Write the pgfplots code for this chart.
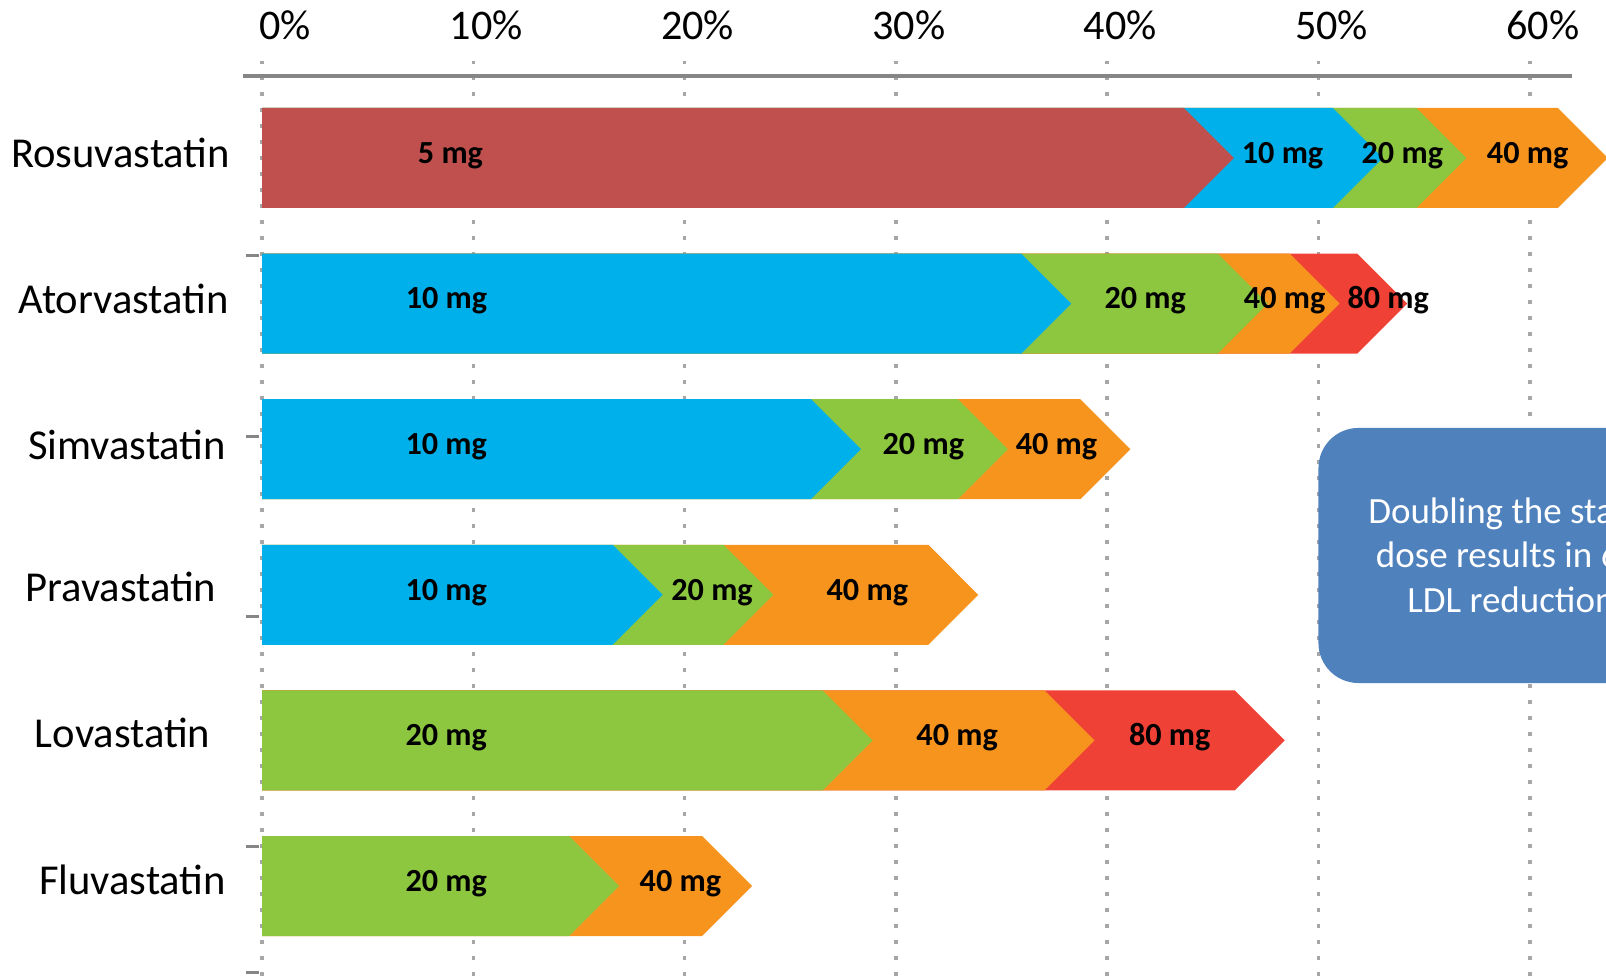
\documentclass[border=0pt]{standalone}
\usepackage{fontspec}
\setmainfont{Carlito}
\usepackage{pgfplots}
\pgfplotsset{compat=1.18}

\definecolor{dosered}{HTML}{C0504D}
\definecolor{doseblue}{HTML}{00B0EA}
\definecolor{dosegreen}{HTML}{8DC63F}
\definecolor{doseorange}{HTML}{F7941E}
\definecolor{dosebright}{HTML}{EF4136}
\definecolor{gridgray}{HTML}{A6A6A6}
\definecolor{axisgray}{HTML}{868686}
\definecolor{notebox}{HTML}{4F81BD}

% arrow tip depth (in %) and half bar height (in rows)
\newcommand\chevd{2.366}
\newcommand\chevh{0.3434}
% \chev{row}{LDL reduction in %}{colour}: arrow from 0 to the value
\newcommand{\chev}[3]{%
  \pgfmathsetmacro\cxb{#2-\chevd}%
  \pgfmathsetmacro\cyt{#1+\chevh}%
  \pgfmathsetmacro\cyb{#1-\chevh}%
  \edef\cplot{\noexpand\addplot[fill=#3, draw=none] coordinates
    {(0,\cyb) (\cxb,\cyb) (#2,#1) (\cxb,\cyt) (0,\cyt)};}%
  \cplot}

\tikzset{
  dose/.style={font=\bfseries\fontsize{16.1}{19}\selectfont, anchor=base, inner sep=0pt, yshift=-2.7pt},
  drug/.style={font=\fontsize{21.3}{25}\selectfont, anchor=base east, inner sep=0pt, xshift=1.8pt, yshift=-1pt},
  note/.style={font=\fontsize{18.5}{22}\selectfont, text=white, anchor=base, inner sep=0pt},
}

\begin{document}
\begin{tikzpicture}
\useasboundingbox (0,0) rectangle (803pt,488pt);
\clip (0,0) rectangle (803pt,488pt);
\begin{axis}[
  at={(121.5pt,0pt)}, anchor=south west,
  scale only axis, width=664.5pt, height=457.5pt,
  xmin=-0.9, xmax=62.0, ymin=-5.618, ymax=0.666,
  clip=false,
  axis x line*=top, axis y line*=left,
  axis line style={draw=none},
  xtick={0,10,20,30,40,50,60},
  xticklabels={\hspace*{10pt}0\%,10\%,20\%,30\%,40\%,50\%,60\%},
  xtick style={draw=none},
  xmajorgrids,
  major grid style={gridgray, line width=1.8pt, dash pattern=on 1.8pt off 6.2pt},
  ytick={-0.673,-1.916,-3.146,-4.732,-5.591},
  yticklabels={},
  ytick style={axisgray, line width=1.5pt, xshift=1.5pt},
  major tick length=6.5pt, tick align=inside,
  xticklabel style={font=\fontsize{21.1}{25}\selectfont, anchor=base, yshift=10.5pt, xshift=6.5pt},
]
% Rosuvastatin
\chev{0}{63.7}{doseorange}
\chev{0}{57.0}{dosegreen}
\chev{0}{53.05}{doseblue}
\chev{0}{46.0}{dosered}
% Atorvastatin
\chev{-1}{54.2}{dosebright}
\chev{-1}{51.0}{doseorange}
\chev{-1}{47.6}{dosegreen}
\chev{-1}{38.3}{doseblue}
% Simvastatin
\chev{-2}{41.1}{doseorange}
\chev{-2}{35.3}{dosegreen}
\chev{-2}{28.35}{doseblue}
% Pravastatin
\chev{-3}{33.9}{doseorange}
\chev{-3}{24.2}{dosegreen}
\chev{-3}{18.96}{doseblue}
% Lovastatin
\chev{-4}{48.4}{dosebright}
\chev{-4}{39.4}{doseorange}
\chev{-4}{28.9}{dosegreen}
% Fluvastatin
\chev{-5}{23.2}{doseorange}
\chev{-5}{16.9}{dosegreen}

% axis line
\draw[axisgray, line width=1.6pt] (axis cs:-0.9,0.563) -- (axis cs:62.0,0.563);

% dose labels
\node[dose] at (axis cs:8.92,0) {5 mg};
\node[dose] at (axis cs:48.3,0) {10 mg};
\node[dose] at (axis cs:53.97,0) {20 mg};
\node[dose] at (axis cs:59.9,0) {40 mg};
\node[dose] at (axis cs:8.73,-1) {10 mg};
\node[dose] at (axis cs:41.8,-1) {20 mg};
\node[dose] at (axis cs:48.4,-1) {40 mg};
\node[dose] at (axis cs:53.3,-1) {80 mg};
\node[dose] at (axis cs:8.72,-2) {10 mg};
\node[dose] at (axis cs:31.3,-2) {20 mg};
\node[dose] at (axis cs:37.6,-2) {40 mg};
\node[dose] at (axis cs:8.72,-3) {10 mg};
\node[dose] at (axis cs:21.3,-3) {20 mg};
\node[dose] at (axis cs:28.65,-3) {40 mg};
\node[dose] at (axis cs:8.72,-4) {20 mg};
\node[dose] at (axis cs:32.9,-4) {40 mg};
\node[dose] at (axis cs:42.96,-4) {80 mg};
\node[dose] at (axis cs:8.72,-5) {20 mg};
\node[dose] at (axis cs:19.8,-5) {40 mg};

% drug names
\node[drug] at (axis cs:-1.666,-0.0529) {Rosuvastatin};
\node[drug] at (axis cs:-1.732,-1.0515) {Atorvastatin};
\node[drug] at (axis cs:-1.859,-2.0577) {Simvastatin};
\node[drug] at (axis cs:-2.319,-3.029) {Pravastatin};
\node[drug] at (axis cs:-2.603,-4.034) {Lovastatin};
\node[drug] at (axis cs:-1.859,-5.047) {Fluvastatin};

% note box
\fill[notebox, rounded corners=20pt] (axis cs:50,-1.854) rectangle (axis cs:68.2,-3.606);
\node[note] at (axis cs:59.11,-2.508) {Doubling the statin};
\node[note] at (axis cs:59.11,-2.811) {dose results in 6\%};
\node[note] at (axis cs:59.11,-3.120) {LDL reduction};
\end{axis}
\end{tikzpicture}
\end{document}
